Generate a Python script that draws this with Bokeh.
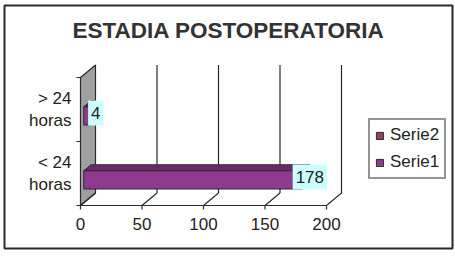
from bokeh.plotting import figure
from bokeh.models import Range1d, Legend, LegendItem
from bokeh.core.properties import value
from bokeh.embed import file_html
from bokeh.resources import INLINE

# ---- data ----
title_text = "ESTADIA POSTOPERATORIA"
categories = ["< 24\nhoras", "> 24\nhoras"]
serie1 = [178, 4]
serie2 = [None, None]          # second series has no values
x_ticks = [0, 50, 100, 150, 200]
series_names = ["Serie1", "Serie2"]

# ---- layout / projection constants ----
W, H = 455, 256
BOX_L, BOX_R, BOX_T, BOX_B = 4, 452, 5, 248      # outer chart frame (px)
ORIGIN_X, ORIGIN_Y = 80, 205                      # px where value 0 / floor sits
PX_X = 246 / 200                                  # px per value unit
PX_Y = 64.0                                       # px per category band
DEPTH_X = 15 / PX_X                               # 3-D depth vector in data units
DEPTH_Y = 12.5 / PX_Y
F0, F1 = 0.22, 0.70                               # bar depth span (fraction of depth)
GAP = 1.5                                         # gap width relative to bar
FONT = "Liberation Sans"
INK = "#2b2b2b"
BAR_FRONT, BAR_TOP, BAR_SIDE = "#8e3a8e", "#6c2a6c", "#5e245e"
SERIE2_COLOR = "#9a3d66"
NAN = float("nan")


def dx(px):
    return (px - ORIGIN_X) / PX_X


def dy(px):
    return (ORIGIN_Y - px) / PX_Y


n = len(categories)
vmax = x_ticks[-1]

p = figure(width=W, height=H, output_backend="svg", toolbar_location=None,
           x_range=Range1d(dx(BOX_L), dx(BOX_R)), y_range=Range1d(dy(BOX_B), dy(BOX_T)),
           x_axis_type=None, y_axis_type=None,
           min_border_left=BOX_L, min_border_right=W - BOX_R,
           min_border_top=BOX_T, min_border_bottom=H - BOX_B)
p.grid.visible = False
p.outline_line_color = INK
p.outline_line_width = 2
p.background_fill_color = "white"
p.border_fill_color = "white"

# side wall
p.patch([0, 0, DEPTH_X, DEPTH_X], [0, n, n + DEPTH_Y, DEPTH_Y],
        fill_color="#a0a0a0", line_color=INK, line_width=1.2)

# floor diagonals, back gridlines, axis lines and ticks
xs, ys = [], []
for t in x_ticks:
    xs.append([t, t + DEPTH_X]); ys.append([0, DEPTH_Y])
    if t > 0:
        xs.append([t + DEPTH_X, t + DEPTH_X]); ys.append([DEPTH_Y, n + DEPTH_Y])
    xs.append([t, t]); ys.append([0, -4 / PX_Y])
xs.append([0, vmax]); ys.append([0, 0])
for k in range(n + 1):
    xs.append([-4 / PX_X, 0]); ys.append([k, k])
p.multi_line(xs, ys, line_color=INK, line_width=1.2)

# bars (serie1 in the lower slot, serie2 in the upper slot)
w = 1.0 / (2 + GAP)
renderers = {}
for si, (name, vals, col) in enumerate([("Serie1", serie1, BAR_FRONT),
                                        ("Serie2", serie2, SERIE2_COLOR)]):
    s0 = GAP / 2 * w + si * w
    s1 = s0 + w
    left, right, bottom, top = [], [], [], []
    side_x, side_y, top_x, top_y = [], [], [], []
    lab_x, lab_y, lab_t = [], [], []
    for ci, v in enumerate(vals):
        if v is None:
            # empty cell: keep a row so the legend still shows the series swatch
            left.append(NAN); right.append(NAN); bottom.append(NAN); top.append(NAN)
            continue
        x0f, x1f = F0 * DEPTH_X, v + F0 * DEPTH_X
        x0b, x1b = F1 * DEPTH_X, v + F1 * DEPTH_X
        y0f, y1f = ci + s0 + F0 * DEPTH_Y, ci + s1 + F0 * DEPTH_Y
        y0b, y1b = ci + s0 + F1 * DEPTH_Y, ci + s1 + F1 * DEPTH_Y
        left.append(x0f); right.append(x1f); bottom.append(y0f); top.append(y1f)
        side_x.append([x1f, x1b, x1b, x1f]); side_y.append([y0f, y0b, y1b, y1f])
        top_x.append([x0f, x1f, x1b, x0b]); top_y.append([y1f, y1f, y1b, y1b])
        fm = (F0 + F1) / 2
        lab_x.append(v + fm * DEPTH_X)
        lab_y.append(ci + (s0 + s1) / 2 + fm * DEPTH_Y)
        lab_t.append(str(v))
    if side_x:
        p.patches(side_x, side_y, fill_color=BAR_SIDE, line_color=INK, line_width=1)
        p.patches(top_x, top_y, fill_color=BAR_TOP, line_color=INK, line_width=1)
    renderers[name] = p.quad(left=left, right=right, bottom=bottom, top=top,
                             fill_color=col, line_color=INK, line_width=1)
    if lab_t:
        p.text(lab_x, lab_y, text=lab_t, x_offset=3.5, text_align="center",
               text_baseline="middle", text_font=value(FONT), text_font_size="17px",
               text_color="#222222", background_fill_color="#ccffff",
               padding=dict(left=3, right=3, top=7, bottom=6))

# category labels
p.text([0] * n, [k + 0.5 for k in range(n)], text=categories, x_offset=-9,
       text_align="right", text_baseline="middle", text_font=value(FONT),
       text_font_size="17px", text_color="#222222", text_line_height=1.2)

# value tick labels
p.text(x_ticks, [0] * len(x_ticks), text=[str(t) for t in x_ticks], y_offset=18,
       text_align="center", text_baseline="middle", text_font=value(FONT),
       text_font_size="17px", text_color="#222222")

# title
p.text([dx((BOX_L + BOX_R) / 2)], [dy(29.5)], text=[title_text], text_align="center",
       text_baseline="middle", text_font=value(FONT), text_font_size="22.5px",
       text_font_style="bold", text_color="#333333")

legend = Legend(items=[LegendItem(label="Serie2", renderers=[renderers["Serie2"]]),
                       LegendItem(label="Serie1", renderers=[renderers["Serie1"]])],
                location=(364, 69), label_text_font=FONT, label_text_font_size="17px",
                label_text_color="#222222", glyph_width=9, glyph_height=9,
                label_standoff=6, spacing=7, padding=5, label_height=20,
                border_line_color=INK, border_line_width=2,
                background_fill_color="white", background_fill_alpha=1.0)
p.add_layout(legend)

open("out.html", "w").write(file_html(p, INLINE))
